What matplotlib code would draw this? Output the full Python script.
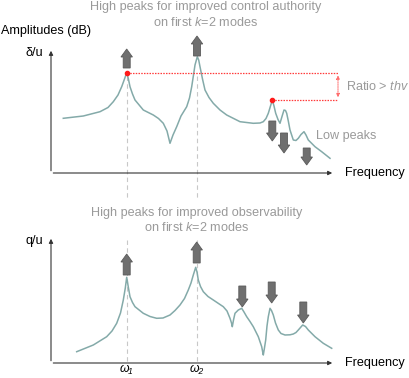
import matplotlib.pyplot as plt

plt.rcParams["font.family"] = ["Liberation Sans", "DejaVu Sans"]
plt.rcParams["mathtext.fontset"] = "custom"
plt.rcParams["mathtext.rm"] = "Liberation Sans"
plt.rcParams["mathtext.it"] = "Liberation Sans:italic"

# top response (delta/u), pixel coordinates of the sketch
top_x = [63.3, 83.3, 100, 108, 113.3, 118, 121.7, 124.5, 126.7, 128.3, 130, 132.5,
         135, 143.3, 153.3, 158.5, 163.3, 167, 170, 173, 176.7, 181, 186.7, 189.5,
         191.7, 193.5, 195, 197.3, 198.7, 200, 202.5, 205, 209, 213.3, 220, 226.7,
         240, 253.3, 260, 263.3, 266, 268.3, 270.5, 272.3, 274, 275.7, 278, 280,
         282, 284, 285.5, 286.7, 288.3, 290, 293.3, 296, 298.3, 301, 304, 306,
         308.3, 315, 321.7, 330]
top_y = [118.3, 116, 111.7, 107.5, 101.7, 95, 86.7, 79, 72.7, 78.5, 86.7, 94,
         100, 110, 115, 118.5, 123.3, 131, 143.3, 135, 126.7, 116, 106.7, 98,
         86.7, 75, 65, 56.7, 60, 66.7, 79, 90, 97.5, 103.3, 110, 115,
         121.7, 123.3, 123, 121.7, 118.5, 113.3, 106, 100, 106, 113.3, 119.5, 123.3,
         116.5, 110, 110.5, 113.3, 121, 130, 140, 140.5, 138.3, 134.5, 131.7, 135,
         140, 146.7, 151.7, 158.3]

# bottom response (q/u)
bot_x = [76.7, 93.3, 106.7, 112, 116.7, 120.5, 123.3, 125.3, 126.7, 128.3, 130,
         132.5, 135, 143.3, 150, 156.7, 163, 170, 175, 180, 184.5, 188.3, 191,
         193.3, 195.7, 197, 198.3, 200.5, 203.3, 208, 213.3, 223.3, 227, 230, 231.5,
         232.3, 233.5, 235, 238.3, 241.7, 244, 246.7, 250, 253.3, 258.3, 261.7,
         262.7, 263.3, 264.3, 265.7, 267, 268.3, 270, 271.5, 273.3, 275.5, 278.3,
         281, 285, 290, 293.3, 296, 298.3, 302.7, 305.5, 308.3, 315, 323.3, 331.7]
bot_y = [351.7, 345, 336.7, 331, 323.3, 313, 300, 288, 277.3, 287, 296.7,
         302.5, 306.7, 313.3, 316.5, 318.3, 318, 315, 310.5, 305, 298.5, 290, 283,
         275, 267.3, 272, 280, 286.5, 291.7, 296.5, 300, 306.7, 311, 318.3, 323,
         326.7, 320, 313.3, 310, 308.3, 312, 316.7, 321.5, 326.7, 336.7, 346.7,
         352, 355, 349, 340, 326, 316.7, 308.3, 310.5, 315, 323, 330,
         333.5, 335, 334.8, 334, 332.5, 330, 325, 326.5, 330, 336.7, 343.3, 348.3]

# block arrows: x, start y, end y
up_arrows = [(126.7, 68, 49), (197, 56, 36), (126.7, 275, 254), (196.7, 263, 242)]
down_arrows = [(272.3, 121, 141), (284, 133, 153), (306.7, 148, 165),
               (242.3, 286, 307), (271.7, 282, 303), (303.3, 302, 323)]

peak_hi = (126.7, 72.7)
peak_lo = (272.3, 100)
ratio_x = 338
omegas = [126.7, 196.7]
omega_labels = ["ω₁", "ω₂"]

CURVE = "#84aaa9"
GREY_TXT = "#9a9a9a"

fig = plt.figure(figsize=(4.09, 3.78), dpi=100)
ax = fig.add_axes([0, 0, 1, 1])
ax.set_xlim(0, 409)
ax.set_ylim(378, 0)
ax.axis("off")

# dashed guides at omega_1, omega_2
for x in omegas:
    ax.plot([x, x], [76, 200], ls=(0, (4, 3)), color="#c8c8c8", lw=0.8, zorder=1)
    ax.plot([x, x], [240, 362], ls=(0, (4, 3)), color="#c8c8c8", lw=0.8, zorder=1)

# axes with arrow heads
for y0, y1 in [(48, 173), (236, 363)]:
    ax.annotate("", xy=(51, y0), xytext=(51, y1 + 0.5),
                arrowprops=dict(arrowstyle="-|>", mutation_scale=6, lw=0.8, color="#333333"))
    ax.annotate("", xy=(335, y1), xytext=(50.5, y1),
                arrowprops=dict(arrowstyle="-|>", mutation_scale=6, lw=0.8, color="#333333"))

ax.plot(top_x, top_y, color=CURVE, lw=1.1, zorder=2)
ax.plot(bot_x, bot_y, color=CURVE, lw=1.1, zorder=2)

# ratio annotation
ax.plot([peak_hi[0], ratio_x], [peak_hi[1]] * 2, color="#ff3b3b", ls=(0, (1.2, 1)), lw=0.9)
ax.plot([peak_lo[0], ratio_x], [peak_lo[1]] * 2, color="#ff3b3b", ls=(0, (1.2, 1)), lw=0.9)
ax.annotate("", xy=(ratio_x, peak_hi[1]), xytext=(ratio_x, peak_lo[1]),
            arrowprops=dict(arrowstyle="<|-|>", mutation_scale=5, lw=0.7,
                            ls=(0, (1.2, 1)), color="#ff6b6b"))
ax.plot(*peak_hi, "o", color="#ff1a1a", ms=3, zorder=4)
ax.plot(*peak_lo, "o", color="#ff1a1a", ms=3, zorder=4)

for x, y0, y1 in up_arrows + down_arrows:
    ax.arrow(x, y0, 0, y1 - y0, width=7, head_width=11.5, head_length=8,
             length_includes_head=True, fc="#6f6f6f", ec="#5a5a5a", lw=0.6, zorder=3)

# texts
fs = 9.1
ax.text(206, 7, "High peaks for improved control authority", ha="center", va="center",
        color=GREY_TXT, fontsize=fs)
ax.text(206, 22, "on first $k$=2 modes", ha="center", va="center", color=GREY_TXT, fontsize=fs)
ax.text(197, 213, "High peaks for improved observability", ha="center", va="center",
        color=GREY_TXT, fontsize=fs)
ax.text(197, 227.5, "on first $k$=2 modes", ha="center", va="center", color=GREY_TXT, fontsize=fs)
ax.text(1, 31, "Amplitudes (dB)", ha="left", va="center", fontsize=fs)
ax.text(43, 53, "δ/u", ha="right", va="center", fontsize=fs)
ax.text(43, 241, "q/u", ha="right", va="center", fontsize=fs)
ax.text(345, 173, "Frequency", ha="left", va="center", fontsize=fs)
ax.text(345, 363, "Frequency", ha="left", va="center", fontsize=fs)
ax.text(346, 87, "Ratio > $thv$", ha="left", va="center", color=GREY_TXT, fontsize=fs)
ax.text(316, 136, "Low peaks", ha="left", va="center", color=GREY_TXT, fontsize=fs)
for x, lab in zip(omegas, omega_labels):
    ax.text(x, 369.5, lab, ha="center", va="center", fontsize=8.8, style="italic")

fig.savefig("out.png", dpi=100)
